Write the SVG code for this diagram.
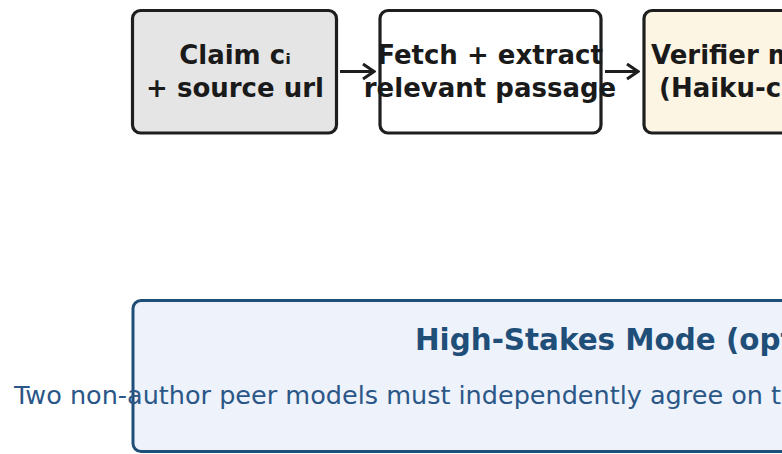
<svg xmlns="http://www.w3.org/2000/svg" width="782" height="454" viewBox="0 0 782 454">
  <style>
    .box { stroke: #1e1e1e; stroke-width: 3.2; }
    .lbl { font-family: "DejaVu Sans", "Liberation Sans", sans-serif; font-weight: bold; font-size: 26px; fill: #1a1a1a; }
    .conn { stroke: #1e1e1e; stroke-width: 3; fill: none; }
    .hs-box { fill: #eef2fa; stroke: #1f4e79; stroke-width: 3; }
    .hs-title { font-family: "DejaVu Sans", "Liberation Sans", sans-serif; font-weight: bold; font-size: 29.4px; fill: #1f4e79; }
    .hs-text { font-family: "DejaVu Sans", "Liberation Sans", sans-serif; font-size: 25.5px; fill: #2a5788; }
  </style>
  <defs>
    <marker id="arrow" viewBox="0 0 14 18" refX="12.5" refY="9" markerWidth="14" markerHeight="18" markerUnits="userSpaceOnUse" orient="auto">
      <path d="M1.5,1.5 L12.5,9 L1.5,16.5" fill="none" stroke="#1e1e1e" stroke-width="3" stroke-linejoin="miter"/>
    </marker>
  </defs>

  <rect width="782" height="454" fill="#ffffff"/>

  <g id="claim">
    <rect class="box" x="132.5" y="10.5" width="204" height="122.5" rx="8" fill="#e5e5e5"/>
    <text class="lbl" x="235" y="64" text-anchor="middle">Claim cᵢ</text>
    <text class="lbl" x="235" y="97" text-anchor="middle">+ source url</text>
  </g>

  <g id="fetch">
    <rect class="box" x="380" y="10.5" width="221" height="122.5" rx="8" fill="#ffffff"/>
    <text class="lbl" x="490" y="64" text-anchor="middle">Fetch + extract</text>
    <text class="lbl" x="490" y="97" text-anchor="middle">relevant passage</text>
  </g>

  <g id="verifier">
    <rect class="box" x="644" y="10.5" width="224" height="122.5" rx="8" fill="#fdf5e3"/>
    <text class="lbl" x="651" y="64">Verifier model</text>
    <text class="lbl" x="659" y="97">(Haiku-class)</text>
  </g>

  <g id="connectors">
    <line class="conn" x1="340" y1="71.5" x2="374" y2="71.5" marker-end="url(#arrow)"/>
    <line class="conn" x1="605" y1="71.5" x2="638" y2="71.5" marker-end="url(#arrow)"/>
  </g>

  <g id="high-stakes">
    <rect class="hs-box" x="133" y="300.5" width="1100" height="151" rx="8"/>
    <text class="hs-title" x="415" y="350">High-Stakes Mode (optional)</text>
    <text class="hs-text" x="14" y="404">Two non-author peer models must independently agree on the</text>
  </g>
</svg>
